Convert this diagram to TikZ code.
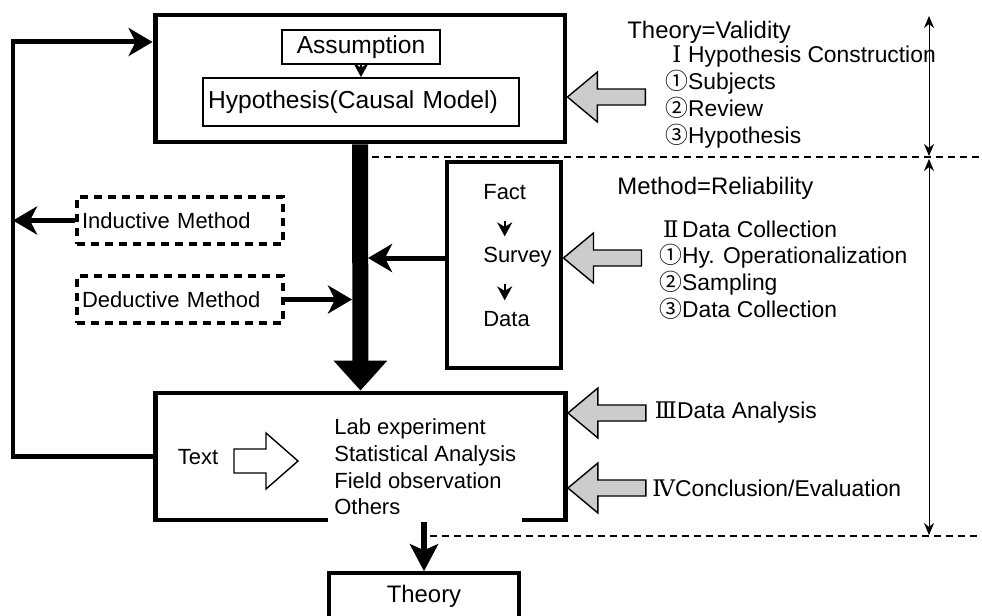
\documentclass[tikz,border=0pt]{standalone}
\usepackage{fontspec}
\setmainfont{Liberation Sans}
\newfontfamily\cjk{Noto Sans CJK JP}
\newfontfamily\romanfont{DejaVu Serif}
\usetikzlibrary{arrows.meta}

\newcommand\bigfont{\fontsize{14}{16.8}\selectfont}
\newcommand\headfont{\fontsize{13.6}{16}\selectfont}
\newcommand\midfont{\fontsize{13}{15.2}\selectfont}
\newcommand\smallfont{\fontsize{12.5}{15.2}\selectfont}
\newcommand\rmnum[1]{\makebox[1em]{\romanfont #1}}

\tikzset{
  mainbox/.style={draw, line width=2.8pt, minimum width=8.2cm, minimum height=2.54cm},
  thinbox/.style={draw, line width=1pt, font=\bigfont},
  dashbox/.style={draw, line width=1.8pt, dash pattern=on 0.16cm off 0.12cm,
    minimum width=4.12cm, minimum height=0.94cm, text width=3.92cm,
    inner xsep=0.1cm, align=left, font=\smallfont},
  heading/.style={anchor=west, inner sep=0pt, font=\headfont},
  steplist/.style={anchor=west, inner sep=0pt, align=left, font=\midfont},
  chain/.style={anchor=west, inner sep=0pt, text height=0.75em, text depth=0.25em, font=\smallfont},
  thickarr/.style={line width=0.1cm, -{Stealth[length=0.48cm, width=0.56cm, inset=0.14cm]}},
  smallarr/.style={line width=1.2pt, -{Stealth[length=0.28cm, width=0.3cm, inset=0.09cm]}},
  spanarr/.style={line width=0.5pt, {Stealth[length=0.24cm, width=0.2cm]}-{Stealth[length=0.24cm, width=0.2cm]}},
  divider/.style={line width=0.6pt, dash pattern=on 0.14cm off 0.1cm},
  greyarrow/.style={draw, line width=0.8pt, fill=gray!40},
}
% grey block arrow, tip at #1, pointing left
\newcommand\blockarrow[1]{%
  \draw[greyarrow] #1 -- ++(30,-25) -- ++(0,17) -- ++(48,0) -- ++(0,16)
    -- ++(-48,0) -- ++(0,17) -- cycle;}

\begin{document}
\begin{tikzpicture}[x=0.02cm, y=-0.02cm]
  \useasboundingbox (0,0) rectangle (982,615);
  % Theory block
  \node[mainbox] (topbox) at (360,78.5) {};
  \node[thinbox, minimum width=3.16cm, minimum height=0.64cm] (assump) at (361,47) {Assumption};
  \node[thinbox, minimum width=6.32cm, minimum height=0.96cm, text width=6.12cm,
    inner xsep=0.1cm, align=left] (hyp) at (361,102) {Hypothesis(Causal Model)};
  \draw[smallarr] (assump) -- (hyp);
  % Analysis block
  \node[mainbox] (botbox) at (360.5,456.5) {};
  \draw[line width=0.32cm, -{Triangle[length=0.6cm, width=1.04cm]}] (topbox.south) -- (botbox.north);
  % Fact -> Survey -> Data
  \node[draw, line width=2.8pt, minimum width=2.28cm, minimum height=4.12cm] (factbox) at (504,265) {};
  \node[chain] (fact) at (483,195) {Fact};
  \node[chain] (survey) at (483,258) {Survey};
  \node[chain] (data) at (483,322) {Data};
  \draw[smallarr, shorten <=0.33cm, shorten >=0.25cm] (fact.south) -- (fact.south |- survey.north);
  \draw[smallarr, shorten <=0.33cm, shorten >=0.25cm] (fact.south |- survey.south) -- (fact.south |- data.north);
  \draw[thickarr, shorten >=0.16cm] (factbox.west |- survey) -- (survey -| topbox.south);
  % Methods
  \node[dashbox] (induct) at (180,220.5) {Inductive Method};
  \node[dashbox] (deduct) at (180,299.5) {Deductive Method};
  \coordinate (loop) at (13,42);
  \draw[thickarr] (botbox.west) -| (loop) -- (loop -| topbox.west);
  \draw[thickarr] (induct.west) -- (induct.west -| loop);
  \draw[thickarr, shorten >=0.16cm] (deduct.east) -- (deduct.east -| topbox.south);
  % Inside the analysis block
  \node[font=\smallfont, inner sep=0pt] (text) at (198,457) {Text};
  \draw[line width=0.8pt, fill=white] (234,449) -- (266,449) -- (266,433) -- (298,461)
    -- (266,489) -- (266,473) -- (234,473) -- cycle;
  \node[font=\smallfont, align=left, fill=white, inner xsep=0.12cm, inner ysep=0.2cm,
    anchor=west] (ways) at (328,467) {Lab experiment\\Statistical Analysis\\Field observation\\Others};
  % Theory
  \node[draw, line width=2pt, minimum width=3.8cm, minimum height=0.92cm, font=\headfont] (theory) at (424,596) {Theory};
  \draw[line width=0.12cm, -{Stealth[length=0.54cm, width=0.56cm, inset=0.12cm]}] (botbox.south -| theory.north) -- (theory.north);
  % Dividers and spans
  \draw[divider] (372,157) -- (982,157);
  \draw[divider] (430,536) -- (982,536);
  \draw[spanarr] (929,16) -- (929,156);
  \draw[spanarr] (929,159) -- (929,535);
  % Right-hand steps
  \node[heading] (validity) at (627,32) {Theory=Validity};
  \node[steplist] (steps1) at (665,97) {\rmnum{Ⅰ}Hypothesis Construction\\{\cjk ①}Subjects\\{\cjk ②}Review\\{\cjk ③}Hypothesis};
  \node[heading] (reliab) at (617,188) {Method=Reliability};
  \node[steplist] (steps2) at (659,270) {\rmnum{Ⅱ}Data Collection\\{\cjk ①}Hy. Operationalization\\{\cjk ②}Sampling\\{\cjk ③}Data Collection};
  \node[steplist] (step3) at (654,413) {\rmnum{Ⅲ}Data Analysis};
  \node[steplist] (step4) at (652,488) {\rmnum{Ⅳ}Conclusion/Evaluation};
  \blockarrow{(topbox.east |- steps1.west)}
  \blockarrow{(factbox.east |- survey.west)}
  \blockarrow{(botbox.east |- step3.west)}
  \blockarrow{(botbox.east |- step4.west)}
\end{tikzpicture}
\end{document}
